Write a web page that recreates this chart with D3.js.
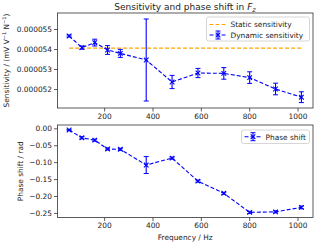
<!DOCTYPE html>
<html>
<head>
<meta charset="utf-8">
<script src="https://cdn.jsdelivr.net/npm/d3@7"></script>
<style>
  body { margin: 0; background: #fff; }
  text { font-family: "DejaVu Sans", sans-serif; fill: #222; }
</style>
</head>
<body>
<div id="chart"></div>
<script>
const width = 320, height = 244;

// data
const freq = [55, 108, 161, 214, 267, 374, 481, 588, 695, 802, 909, 1016];
const sens = [0.00005465, 0.00005407, 0.00005432, 0.00005395, 0.00005378, 0.00005345,
              0.00005235, 0.0000528, 0.00005278, 0.00005257, 0.000052, 0.00005159];
const sensErr = [0.00000005, 0.00000008, 0.00000017, 0.00000022, 0.0000002, 0.00000205,
                 0.00000033, 0.00000023, 0.00000029, 0.00000029, 0.00000029, 0.00000027];
const staticSens = 0.00005404;
const phase = [-0.005, -0.028, -0.035, -0.061, -0.062, -0.1085,
               -0.088, -0.156, -0.192, -0.2485, -0.2467, -0.2337];
const phaseErr = [0.002, 0.003, 0.003, 0.003, 0.003, 0.025,
                  0.003, 0.003, 0.003, 0.003, 0.003, 0.004];
const xTicks = [200, 400, 600, 800, 1000];
const sensTicks = [0.000052, 0.000053, 0.000054, 0.000055];
const phaseTicks = [0, -0.05, -0.10, -0.15, -0.20, -0.25];

const svg = d3.select("#chart").append("svg")
    .attr("width", width).attr("height", height);

const left = 57.5, right = 313;
const x = d3.scaleLinear().domain([7, 1064]).range([left, right]);
const yTop = d3.scaleLinear().domain([0.00005105, 0.0000558]).range([108, 13]);
const yBot = d3.scaleLinear().domain([-0.2635, 0.0098]).range([217.5, 125]);

const blue = "#0000ff", orange = "#ffa500";

function drawAxes(y, yTicks, fmt, top, bottom) {
    const g = svg.append("g");
    g.append("g")
        .attr("transform", `translate(0,${bottom})`)
        .call(d3.axisBottom(x).tickValues(xTicks).tickSize(3.5).tickPadding(2).tickFormat(d3.format("d")));
    g.append("g")
        .attr("transform", `translate(${left},0)`)
        .call(d3.axisLeft(y).tickValues(yTicks).tickSize(3.5).tickPadding(2).tickFormat(fmt));
    g.selectAll(".domain").remove();
    g.selectAll(".tick line").attr("stroke", "#333").attr("stroke-width", 0.8);
    g.selectAll(".tick text").style("font-size", "7.4px").attr("fill", "#222");
    g.append("rect")
        .attr("x", left).attr("y", top)
        .attr("width", right - left).attr("height", bottom - top)
        .attr("fill", "none").attr("stroke", "#333").attr("stroke-width", 0.8);
}

function drawSeries(y, vals, errs) {
    const g = svg.append("g");
    const line = d3.line().x((d, i) => x(freq[i])).y(d => y(d));
    g.append("path").datum(vals)
        .attr("d", line)
        .attr("fill", "none").attr("stroke", blue)
        .attr("stroke-width", 1.1).attr("stroke-dasharray", "4,2");
    vals.forEach((v, i) => {
        const cx = x(freq[i]);
        const y1 = y(v - errs[i]), y2 = y(v + errs[i]);
        g.append("line").attr("x1", cx).attr("x2", cx).attr("y1", y1).attr("y2", y2)
            .attr("stroke", blue).attr("stroke-width", 1.1);
        [y1, y2].forEach(yy => {
            g.append("line").attr("x1", cx - 2.5).attr("x2", cx + 2.5).attr("y1", yy).attr("y2", yy)
                .attr("stroke", blue).attr("stroke-width", 1);
        });
        const cy = y(v), s = 2.3;
        g.append("path")
            .attr("d", `M${cx - s},${cy - s}L${cx + s},${cy + s}M${cx - s},${cy + s}L${cx + s},${cy - s}`)
            .attr("stroke", blue).attr("stroke-width", 1.1);
    });
}

// top panel
drawAxes(yTop, sensTicks, d3.format(".6f"), 13, 108);
svg.append("line")
    .attr("x1", x(freq[0])).attr("x2", x(freq[freq.length - 1]))
    .attr("y1", yTop(staticSens)).attr("y2", yTop(staticSens))
    .attr("stroke", orange).attr("stroke-width", 1.2).attr("stroke-dasharray", "4,2");
drawSeries(yTop, sens, sensErr);

// bottom panel
drawAxes(yBot, phaseTicks, d3.format(".2f"), 125, 217.5);
drawSeries(yBot, phase, phaseErr);

function errHandle(g, x0, yy) {
    g.append("line").attr("x1", x0).attr("x2", x0 + 17).attr("y1", yy).attr("y2", yy)
        .attr("stroke", blue).attr("stroke-width", 1.1).attr("stroke-dasharray", "4,2");
    const cx = x0 + 8.5;
    g.append("line").attr("x1", cx).attr("x2", cx).attr("y1", yy - 4).attr("y2", yy + 4)
        .attr("stroke", blue).attr("stroke-width", 1.1);
    [yy - 4, yy + 4].forEach(v => g.append("line").attr("x1", cx - 2.5).attr("x2", cx + 2.5)
        .attr("y1", v).attr("y2", v).attr("stroke", blue));
    g.append("path")
        .attr("d", `M${cx - 2.3},${yy - 2.3}L${cx + 2.3},${yy + 2.3}M${cx - 2.3},${yy + 2.3}L${cx + 2.3},${yy - 2.3}`)
        .attr("stroke", blue).attr("stroke-width", 1.1);
}

// legends
const lg1 = svg.append("g");
lg1.append("rect").attr("x", 206.5).attr("y", 17).attr("width", 103).attr("height", 24)
    .attr("rx", 2).attr("fill", "#fff").attr("fill-opacity", 0.8).attr("stroke", "#ccc").attr("stroke-width", 0.8);
lg1.append("line").attr("x1", 209.5).attr("x2", 226.5).attr("y1", 24.5).attr("y2", 24.5)
    .attr("stroke", orange).attr("stroke-width", 1.2).attr("stroke-dasharray", "4,2");
lg1.append("text").attr("x", 230.5).attr("y", 27.3).style("font-size", "7.4px").text("Static sensitivity");
errHandle(lg1, 209.5, 35);
lg1.append("text").attr("x", 230.5).attr("y", 37.8).style("font-size", "7.4px").text("Dynamic sensitivity");

const lg2 = svg.append("g");
lg2.append("rect").attr("x", 241.5).attr("y", 130).attr("width", 68).attr("height", 13.5)
    .attr("rx", 2).attr("fill", "#fff").attr("fill-opacity", 0.8).attr("stroke", "#ccc").attr("stroke-width", 0.8);
errHandle(lg2, 244.5, 136.7);
lg2.append("text").attr("x", 265.5).attr("y", 139.5).style("font-size", "7.4px").text("Phase shift");

// title
const title = svg.append("text").attr("x", 185).attr("y", 9.5)
    .attr("text-anchor", "middle").style("font-size", "9px");
title.append("tspan").text("Sensitivity and phase shift in ");
title.append("tspan").style("font-style", "italic").text("F");
title.append("tspan").style("font-style", "italic").style("font-size", "6.5px").attr("dy", 2).text("z");

// axis labels
const yl1 = svg.append("text")
    .attr("transform", `translate(9,${(13 + 108) / 2}) rotate(-90)`)
    .attr("text-anchor", "middle").style("font-size", "7.4px");
yl1.append("tspan").text("Sensitivity / (mV V");
yl1.append("tspan").attr("dy", -3).style("font-size", "5px").text("−1");
yl1.append("tspan").attr("dy", 3).text(" N");
yl1.append("tspan").attr("dy", -3).style("font-size", "5px").text("−1");
yl1.append("tspan").attr("dy", 3).text(")");

svg.append("text")
    .attr("transform", `translate(23,${(125 + 217.5) / 2}) rotate(-90)`)
    .attr("text-anchor", "middle").style("font-size", "7.4px").text("Phase shift / rad");

svg.append("text").attr("x", (left + right) / 2).attr("y", 240)
    .attr("text-anchor", "middle").style("font-size", "7.4px").text("Frequency / Hz");
</script>
</body>
</html>
